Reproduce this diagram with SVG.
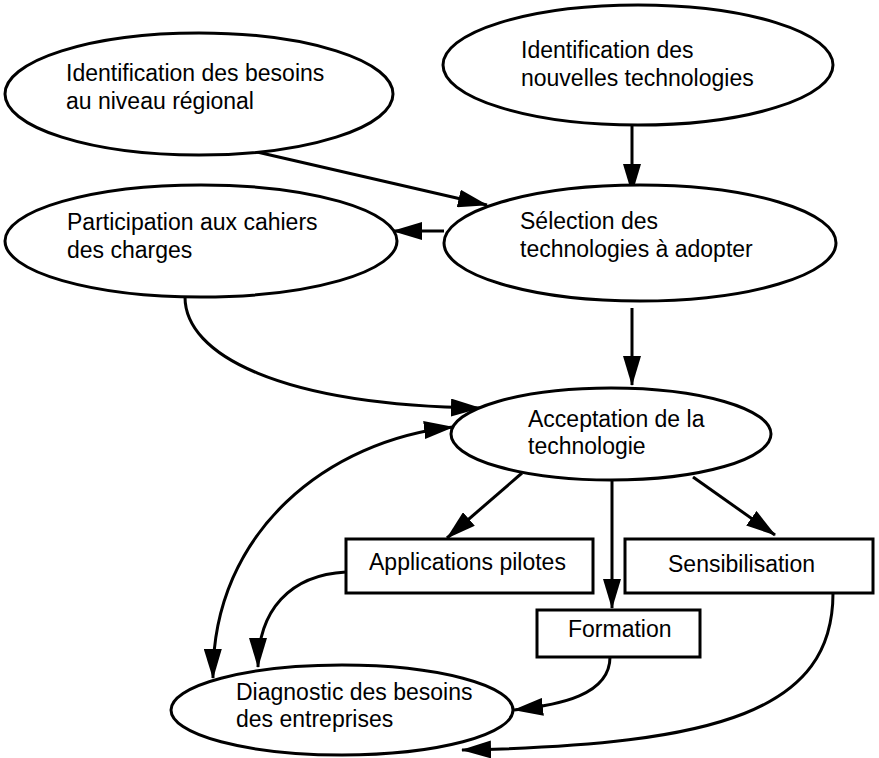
<svg xmlns="http://www.w3.org/2000/svg" width="879" height="758" viewBox="0 0 879 758">
<style>
.n{fill:#fff;stroke:#000;stroke-width:3}
.t{font-family:"Liberation Sans",Arial,sans-serif;font-size:23px;fill:#000}
.c{fill:none;stroke:#000;stroke-width:3}
</style>
<defs>
<marker id="ah" markerUnits="userSpaceOnUse" markerWidth="32" markerHeight="18" refX="29" refY="9" orient="auto-start-reverse">
<path d="M0,0 L30,9 L0,18 z" fill="#000"/>
</marker>
</defs>
<rect width="879" height="758" fill="#fff"/>
<g id="connectors">
<path class="c" d="M257,152 L487,205" marker-end="url(#ah)"/>
<path class="c" d="M632,125 L632,193" marker-end="url(#ah)"/>
<path class="c" d="M444,231 L393,231" marker-end="url(#ah)"/>
<path class="c" d="M632,308 L632,385" marker-end="url(#ah)"/>
<path class="c" d="M185,297 C185,355 280,405 480,408" marker-end="url(#ah)"/>
<path class="c" d="M453,427 C330,440 212,530 213,678" marker-start="url(#ah)" marker-end="url(#ah)"/>
<path class="c" d="M522,473 L447,538" marker-end="url(#ah)"/>
<path class="c" d="M612,480 L612,608" marker-end="url(#ah)"/>
<path class="c" d="M693,477 L775,535" marker-end="url(#ah)"/>
<path class="c" d="M346,572 C290,575 258,610 258,667" marker-end="url(#ah)"/>
<path class="c" d="M610,657 C610,695 560,705 514,710" marker-end="url(#ah)"/>
<path class="c" d="M833,593 C833,710 720,745 462,750" marker-end="url(#ah)"/>
</g>
<g id="n1"><ellipse class="n" cx="199" cy="94" rx="194" ry="61"/><text class="t" x="66" y="81">Identification des besoins</text><text class="t" x="66" y="109">au niveau régional</text></g>
<g id="n2"><ellipse class="n" cx="638" cy="65" rx="195" ry="60"/><text class="t" x="521" y="58">Identification des</text><text class="t" x="521" y="86">nouvelles technologies</text></g>
<g id="n3"><ellipse class="n" cx="201" cy="241" rx="196" ry="56"/><text class="t" x="67" y="230">Participation aux cahiers</text><text class="t" x="67" y="258">des charges</text></g>
<g id="n4"><ellipse class="n" cx="640" cy="243" rx="196" ry="58"/><text class="t" x="520" y="229">Sélection des</text><text class="t" x="520" y="257">technologies à adopter</text></g>
<g id="n5"><ellipse class="n" cx="611" cy="434" rx="160" ry="46"/><text class="t" x="528" y="427">Acceptation de la</text><text class="t" x="528" y="454">technologie</text></g>
<g id="n6"><rect class="n" x="346" y="539" width="247" height="54"/><text class="t" x="369" y="570">Applications pilotes</text></g>
<g id="n7"><rect class="n" x="625" y="539" width="248" height="54"/><text class="t" x="668" y="572">Sensibilisation</text></g>
<g id="n8"><rect class="n" x="537" y="610" width="163" height="47"/><text class="t" x="568" y="637">Formation</text></g>
<g id="n9"><ellipse class="n" cx="342" cy="710" rx="171" ry="45"/><text class="t" x="236" y="700">Diagnostic des besoins</text><text class="t" x="236" y="727">des entreprises</text></g>
</svg>
